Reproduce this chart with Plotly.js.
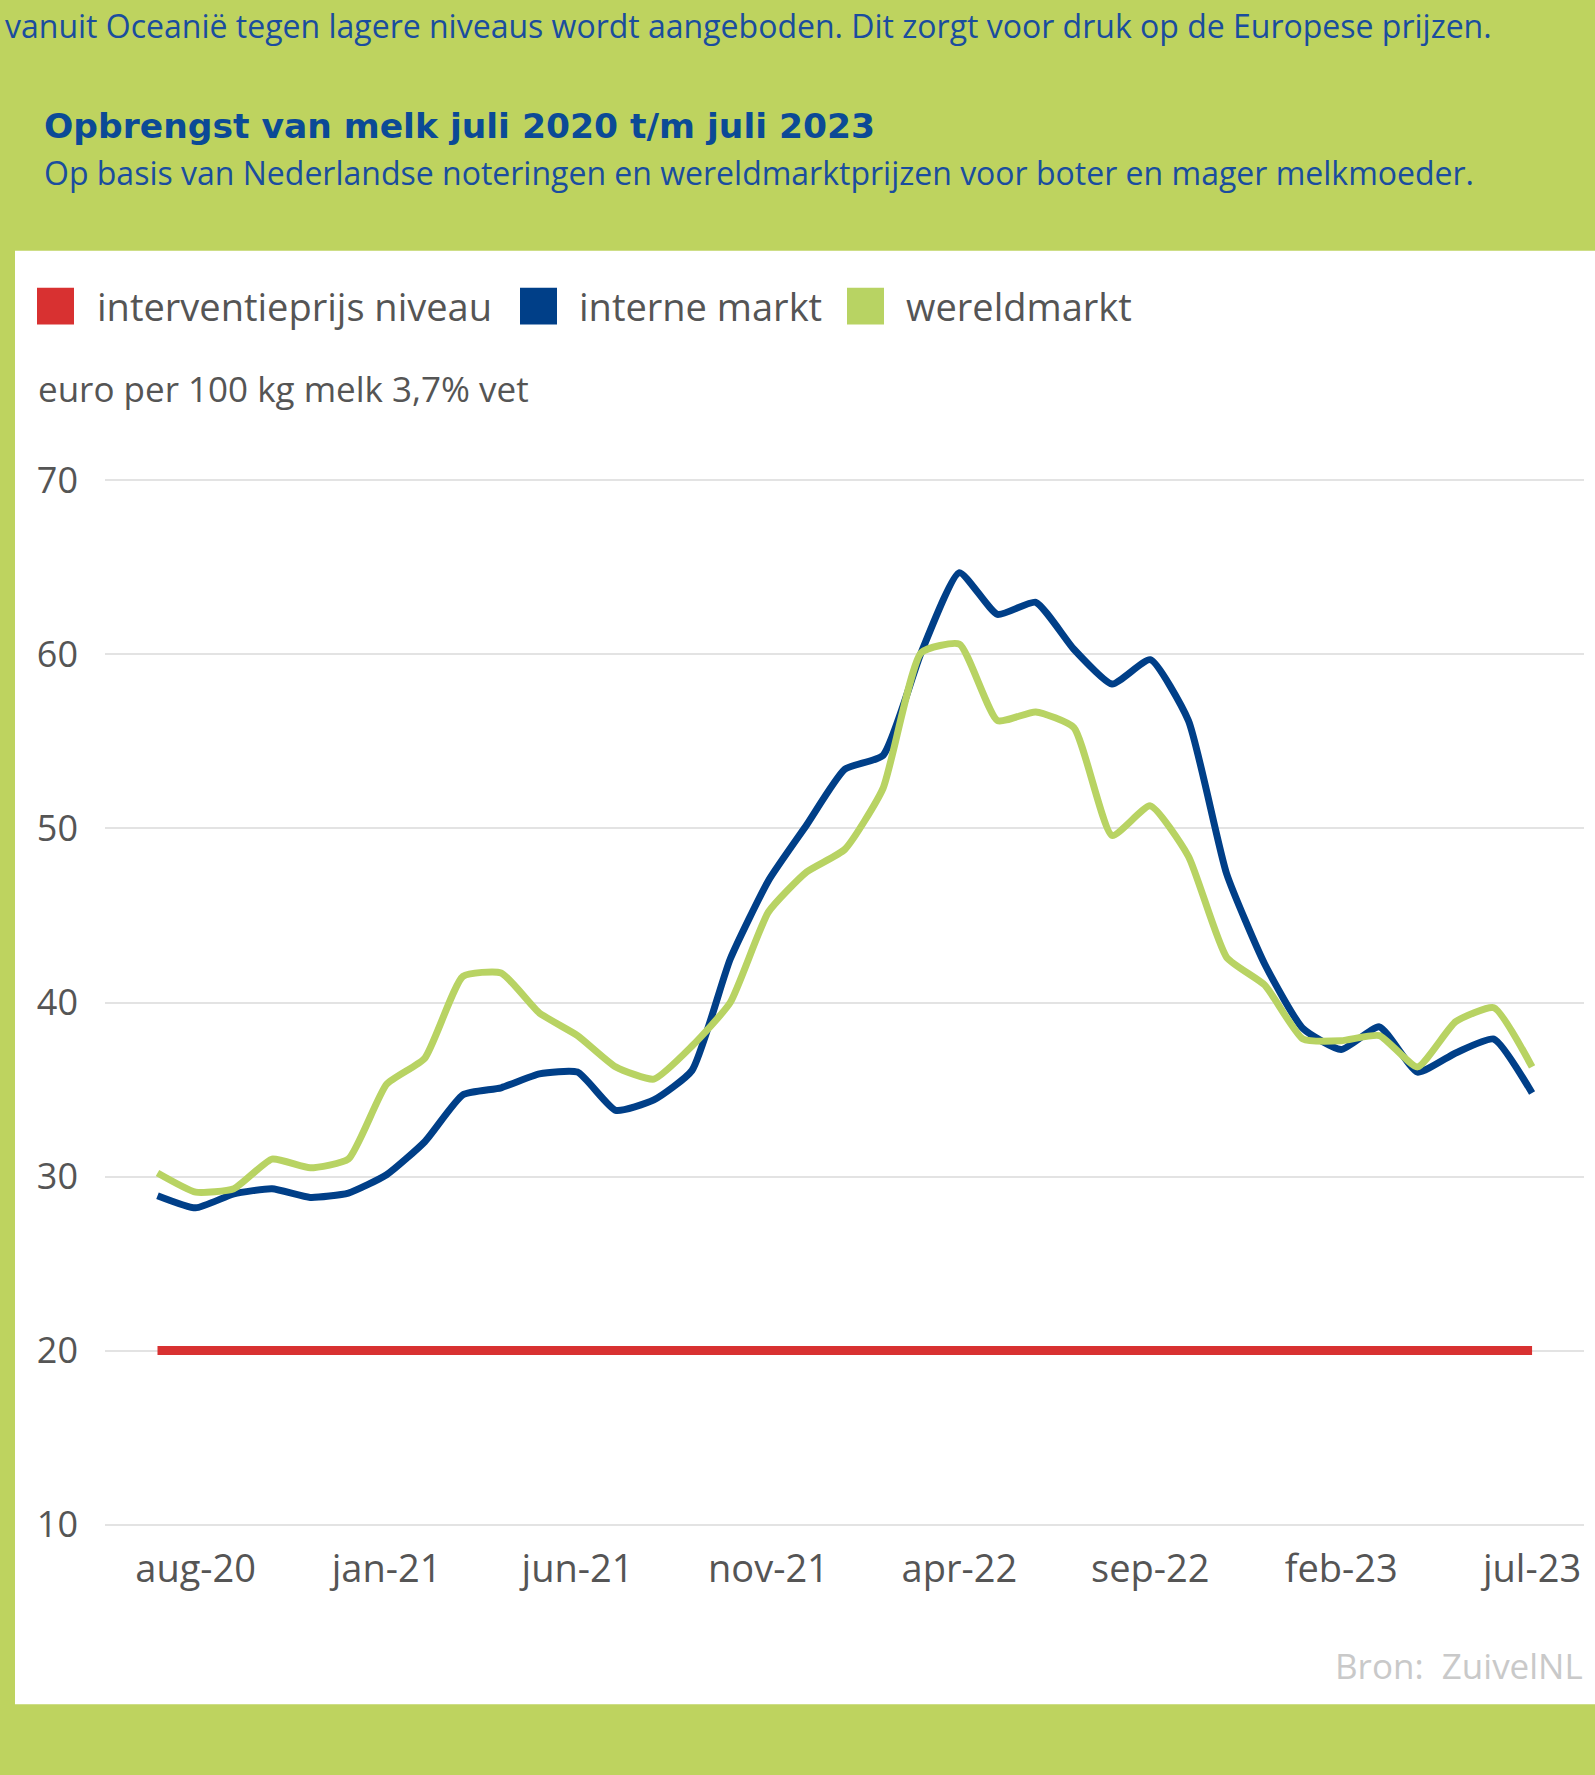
<!DOCTYPE html>
<html>
<head>
<meta charset="utf-8">
<script src="https://cdn.plot.ly/plotly-3.0.1.min.js"></script>
<style>html,body{margin:0;padding:0;background:#bed35f;}#chart{width:1595px;height:1775px;}</style>
</head>
<body>
<div id="chart"></div>
<script>
// ---- data ----
var months = ['jul-20','aug-20','sep-20','okt-20','nov-20','dec-20',
  'jan-21','feb-21','mrt-21','apr-21','mei-21','jun-21','jul-21','aug-21','sep-21','okt-21','nov-21','dec-21',
  'jan-22','feb-22','mrt-22','apr-22','mei-22','jun-22','jul-22','aug-22','sep-22','okt-22','nov-22','dec-22',
  'jan-23','feb-23','mrt-23','apr-23','mei-23','jun-23','jul-23'];
var tickLabels = ['aug-20','jan-21','jun-21','nov-21','apr-22','sep-22','feb-23','jul-23'];
var yTicks = [10,20,30,40,50,60,70];
var interneMarkt = [28.9,28.2,29.0,29.3,28.8,29.05,30.1,32.0,34.7,35.1,35.9,36.0,33.8,34.4,36.1,42.5,47.0,50.2,
  53.4,54.2,60.1,64.7,62.3,63.0,60.3,58.3,59.7,56.2,47.4,42.2,38.5,37.3,38.6,36.0,37.1,37.9,34.8];
var wereldmarkt = [30.2,29.1,29.3,31.0,30.5,31.0,35.3,36.8,41.5,41.7,39.4,38.1,36.3,35.6,37.5,40.0,45.2,47.5,
  48.8,52.3,60.1,60.6,56.2,56.7,55.8,49.6,51.3,48.4,42.6,41.0,37.9,37.8,38.1,36.3,38.9,39.7,36.3];
var interventie = months.map(function(){ return 20; });
var seriesNames = ['interventieprijs niveau','interne markt','wereldmarkt'];
var seriesColors = ['#d83131','#003f88','#b8d363'];

// ---- geometry: 70 gridline at y=480px, 10 gridline at y=1525px ----
var W = 1595, H = 1775;
var yMin = 9.8, yMax = 70.2;
var pxPerUnit = (1525 - 480) / 60;
var mL = 105, mR = 11;
var mT = 480 - (yMax - 70) * pxPerUnit;
var mB = H - (1525 + (10 - yMin) * pxPerUnit);
var pw = W - mL - mR, ph = H - mT - mB;
function PX(x){ return (x - mL) / pw; }
function PY(y){ return (H - mB - y) / ph; }

var traces = [
  {x: months, y: interventie, name: seriesNames[0], type:'scatter', mode:'lines',
   line:{color:seriesColors[0], width:9}, showlegend:false, hoverinfo:'skip'},
  {x: months, y: interneMarkt, name: seriesNames[1], type:'scatter', mode:'lines',
   line:{color:seriesColors[1], width:7, shape:'spline', smoothing:0.5}, showlegend:false},
  {x: months, y: wereldmarkt, name: seriesNames[2], type:'scatter', mode:'lines',
   line:{color:seriesColors[2], width:7, shape:'spline', smoothing:0.5}, showlegend:false}
];

var FONT = 'Open Sans, sans-serif';
var annotations = [
  {text:'vanuit Oceanië tegen lagere niveaus wordt aangeboden. Dit zorgt voor druk op de Europese prijzen.',
   x:PX(3), y:PY(25), xref:'paper', yref:'paper', xanchor:'left', yanchor:'middle', showarrow:false,
   font:{family:FONT, size:32, color:'#1a4d9e'}},
  {text:'<b>Opbrengst van melk juli 2020 t/m juli 2023</b>',
   x:PX(42), y:PY(125), xref:'paper', yref:'paper', xanchor:'left', yanchor:'middle', showarrow:false,
   font:{family:'DejaVu Sans, sans-serif', size:34.5, color:'#0b4a96'}},
  {text:'Op basis van Nederlandse noteringen en wereldmarktprijzen voor boter en mager melkmoeder.',
   x:PX(42), y:PY(172), xref:'paper', yref:'paper', xanchor:'left', yanchor:'middle', showarrow:false,
   font:{family:FONT, size:32, color:'#1a4d9e'}},
  {text:'euro per 100 kg melk 3,7% vet',
   x:PX(36), y:PY(388), xref:'paper', yref:'paper', xanchor:'left', yanchor:'middle', showarrow:false,
   font:{family:FONT, size:35, color:'#555555'}},
  {text:'Bron:  ZuivelNL',
   x:PX(1585), y:PY(1666), xref:'paper', yref:'paper', xanchor:'right', yanchor:'middle', showarrow:false,
   font:{family:FONT, size:35, color:'#c9c9c9'}}
];

var shapes = [
  {type:'rect', xref:'paper', yref:'paper', x0:PX(15), x1:PX(1600), y0:PY(1705), y1:PY(250),
   fillcolor:'#ffffff', line:{width:0}, layer:'below'}
];

// legend (squares + labels)
var legendSq = [37, 520, 847];
var legendTx = [95, 577, 904];
for (var i = 0; i < seriesNames.length; i++) {
  shapes.push({type:'rect', xref:'paper', yref:'paper', x0:PX(legendSq[i]), x1:PX(legendSq[i]+37),
    y0:PY(324), y1:PY(287), fillcolor:seriesColors[i], line:{width:0}});
  annotations.push({text:seriesNames[i], x:PX(legendTx[i]), y:PY(305), xref:'paper', yref:'paper',
    xanchor:'left', yanchor:'middle', showarrow:false, font:{family:FONT, size:38, color:'#555555'}});
}

var layout = {
  width: W, height: H,
  margin:{l:mL, r:mR, t:mT, b:mB, pad:0},
  paper_bgcolor:'#bed35f', plot_bgcolor:'rgba(0,0,0,0)',
  showlegend:false,
  xaxis:{type:'category', categoryorder:'array', categoryarray:months,
    range:[-1.375, 37.36], tickmode:'array', tickvals:tickLabels, ticktext:tickLabels,
    showgrid:false, zeroline:false, showline:false, ticks:'',
    ticklabelstandoff:15,
    tickfont:{family:FONT, size:38, color:'#555555'}},
  yaxis:{range:[yMin, yMax], tickmode:'array', tickvals:yTicks,
    showgrid:true, gridcolor:'#e3e3e3', gridwidth:2, zeroline:false, showline:false, ticks:'',
    ticklabelstandoff:26,
    tickfont:{family:FONT, size:36, color:'#555555'}},
  shapes: shapes,
  annotations: annotations
};

Plotly.newPlot('chart', traces, layout, {displayModeBar:false, staticPlot:true});
</script>
</body>
</html>
